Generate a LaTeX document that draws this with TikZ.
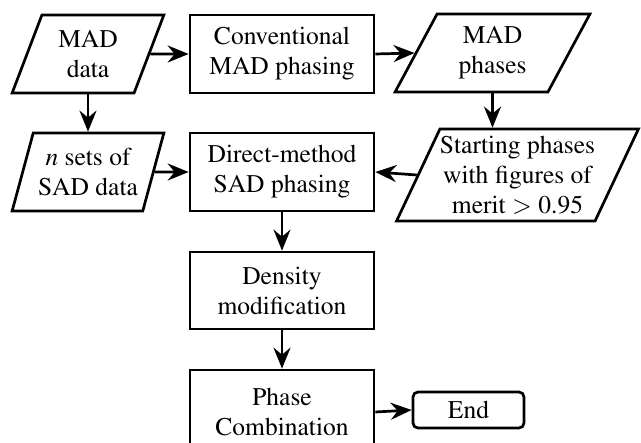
\documentclass[tikz,border=0pt]{standalone}
\usepackage[T1]{fontenc}
\usepackage{mathptmx}
\usetikzlibrary{shapes.geometric,arrows.meta}
\tikzset{
  base/.style={draw, line width=2.7pt, inner sep=0pt, align=center,
    font=\fontsize{25.5}{30}\selectfont},
  procbox/.style={base, rectangle, minimum width=184pt, minimum height=78pt},
  iobox/.style={base, trapezium, trapezium stretches=true,
    trapezium left angle=#1, trapezium right angle=180-#1},
  endbox/.style={base, rectangle, rounded corners=5pt, minimum width=111pt, minimum height=36pt},
  flow/.style={line width=2.7pt, -{Stealth[length=21pt,width=17pt,inset=7pt]}}
}
\begin{document}
\begin{tikzpicture}[x=1pt,y=-1pt]
\useasboundingbox (0,0) rectangle (641,443);
\node[iobox=68, minimum width=152pt, minimum height=78pt] (maddata) at (88,54) {MAD\\data};
\node[procbox] (conv) at (282,54) {Conventional\\MAD phasing};
\node[iobox=64, minimum width=195pt, minimum height=78pt] (madph) at (492.5,53) {MAD\\phases};
\node[iobox=68, minimum width=152pt, minimum height=78pt] (nsets) at (88,172) {\textit{n} sets of\\SAD data};
\node[procbox] (direct) at (282,172) {Direct-method\\SAD phasing};
\node[iobox=61, minimum width=241pt, minimum height=92pt] (start) at (517.5,175) {Starting phases\\with figures of\\merit $>$ 0.95};
\node[procbox, minimum height=77pt] (density) at (282,290.5) {Density\\modification};
\node[procbox, minimum height=84pt] (phasec) at (282,412) {Phase\\Combination};
\node[endbox] (end) at (468.5,410) {End};

\draw[flow] (maddata.east) -- (conv.west);
\draw[flow] (conv.east) -- (madph.west);
\draw[flow] (maddata.south -| nsets.north) -- (nsets.north);
\draw[flow] (madph.center |- madph.south) -- (madph.center |- start.north);
\draw[flow] (start.west) -- (direct.east);
\draw[flow] (nsets.east) -- (direct.west);
\draw[flow] (direct.south) -- (density.north);
\draw[flow] (density.south) -- (phasec.north);
\draw[flow] (phasec.east) -- (end.west);
\end{tikzpicture}
\end{document}
